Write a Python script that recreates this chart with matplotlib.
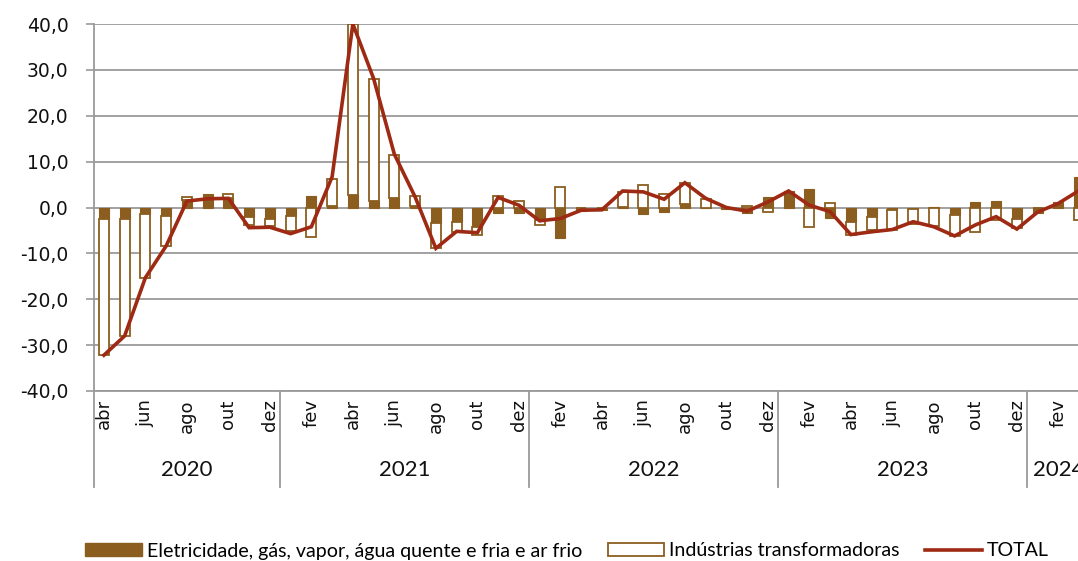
import matplotlib
matplotlib.use("Agg")
import matplotlib.pyplot as plt
import numpy as np
from matplotlib.patches import Patch
from matplotlib.lines import Line2D
import matplotlib.transforms as mtransforms

months = ["abr", "mai", "jun", "jul", "ago", "set", "out", "nov", "dez",
          "jan", "fev", "mar", "abr", "mai", "jun", "jul", "ago", "set", "out", "nov", "dez",
          "jan", "fev", "mar", "abr", "mai", "jun", "jul", "ago", "set", "out", "nov", "dez",
          "jan", "fev", "mar", "abr", "mai", "jun", "jul", "ago", "set", "out", "nov", "dez",
          "jan", "fev", "mar"]
years = ["2020", "2021", "2022", "2023", "2024"]
year_counts = [9, 12, 12, 12, 3]

eletricidade = [-2.4, -2.6, -1.5, -1.9, 1.6, 2.9, 2.0, -2.0, -2.6,
                -1.8, 2.5, 0.3, 2.7, 1.4, 2.0, 0.3, -3.3, -3.1, -4.2, -1.1, -1.2,
                -2.8, -6.7, -0.7, -0.6, 0.1, -1.5, -0.9, 0.7, -0.2, -0.4, -1.3, 2.2,
                3.5, 4.1, -2.2, -3.1, -2.0, -0.6, -0.3, 0.1, -1.7, 1.2, 1.5, -2.4,
                -1.2, 1.1, 6.6]
industrias = [-29.8, -25.5, -13.8, -6.5, 0.7, 0.0, 0.9, -1.8, -1.5,
              -3.3, -6.4, 6.0, 37.3, 26.7, 9.5, 2.1, -5.6, -2.2, -1.8, 2.5, 1.45,
              -1.0, 4.4, 0.0, 0.0, 3.3, 4.9, 2.9, 4.6, 1.8, 0.0, 0.4, -0.9,
              0.0, -4.2, 0.9, -2.9, -3.0, -4.4, -3.3, -4.0, -4.6, -5.3, -2.7, -2.0,
              0.0, 0.0, -2.8]
total = [-32.2, -28.0, -15.3, -8.4, 1.4, 1.9, 2.0, -4.4, -4.3,
         -5.7, -4.2, 6.7, 40.0, 28.1, 11.6, 2.3, -8.9, -5.2, -5.5, 2.2, 0.5,
         -2.9, -2.4, -0.6, -0.5, 3.6, 3.4, 1.8, 5.4, 2.0, 0.0, -0.8, 1.2,
         3.6, 0.5, -0.9, -5.9, -5.3, -4.8, -3.1, -4.2, -6.2, -3.8, -2.0, -4.7,
         -1.0, 0.9, 3.7]

BROWN = "#8B5E20"
RED = "#9E2A14"
GRID = "#9A9A9A"

fig = plt.figure(figsize=(10.78, 5.61), dpi=100)
W, H = 1078, 561
left_px, right_px, top_px, bot_px = 93.5, 1089.5, 24, 391
ax = fig.add_axes([left_px / W, 1 - bot_px / H, (right_px - left_px) / W, (bot_px - top_px) / H])

x = np.arange(len(months))
e = np.array(eletricidade)
ind = np.array(industrias)
ind_bottom = np.where(np.sign(ind) == np.sign(e), e, 0.0)

ax.bar(x, e, width=0.48, color=BROWN, edgecolor=BROWN, linewidth=0.8, zorder=3)
ax.bar(x, ind, bottom=ind_bottom, width=0.48, color="white", edgecolor=BROWN, linewidth=1.3, zorder=3)
ax.plot(x, total, color=RED, linewidth=2.6, zorder=4, solid_joinstyle="miter")

ax.set_xlim(-0.5, len(months) - 0.5)
ax.set_ylim(-40, 40)
ax.set_yticks(np.arange(-40, 41, 10))
ax.set_yticklabels([f"{v:.1f}".replace(".", ",") for v in np.arange(-40, 41, 10)],
                   fontsize=13.5, family="DejaVu Sans", color="#111111")
ax.yaxis.grid(True, color=GRID, linewidth=1.3, zorder=0)
ax.set_axisbelow(True)
ax.tick_params(axis="y", length=6, width=1.2, color=GRID, pad=12)

tick_idx = list(range(0, len(months), 2))
ax.set_xticks(tick_idx)
ax.set_xticklabels([months[i] for i in tick_idx], rotation=90, fontsize=13,
                   family="DejaVu Sans", color="#111111")
ax.tick_params(axis="x", length=0, pad=6)

for s in ["top", "right"]:
    ax.spines[s].set_visible(False)
ax.spines["left"].set_color(GRID)
ax.spines["left"].set_linewidth(1.3)
ax.spines["bottom"].set_color(GRID)
ax.spines["bottom"].set_linewidth(1.3)

# year group separators and labels
trans = mtransforms.blended_transform_factory(ax.transData, ax.transAxes)
ext = -(487 - bot_px) / (bot_px - top_px)
bounds = np.concatenate([[0], np.cumsum(year_counts)]) - 0.5
for b in bounds[:-1]:
    ax.add_line(Line2D([b, b], [0, ext], transform=trans, color=GRID, linewidth=1.3, clip_on=False))
for i, yname in enumerate(years):
    c = (bounds[i] + bounds[i + 1]) / 2
    ax.text(c, -(470 - bot_px) / (bot_px - top_px), yname, transform=trans, ha="center", va="center",
            fontsize=16, family="Lato", color="#111111", clip_on=False)

handles = [Patch(facecolor=BROWN, edgecolor=BROWN),
           Patch(facecolor="white", edgecolor=BROWN, linewidth=1.3),
           Line2D([], [], color=RED, linewidth=2.6)]
labels = ["Eletricidade, gás, vapor, água quente e fria e ar frio",
          "Indústrias transformadoras", "TOTAL"]
fig.legend(handles, labels, loc="center", bbox_to_anchor=(567 / W, 1 - 551 / H), ncol=3,
           frameon=False, prop={"family": "Lato", "size": 14.1}, handlelength=2.9,
           handleheight=0.6, handletextpad=0.25, columnspacing=1.3)

fig.savefig("out.png", dpi=100)
